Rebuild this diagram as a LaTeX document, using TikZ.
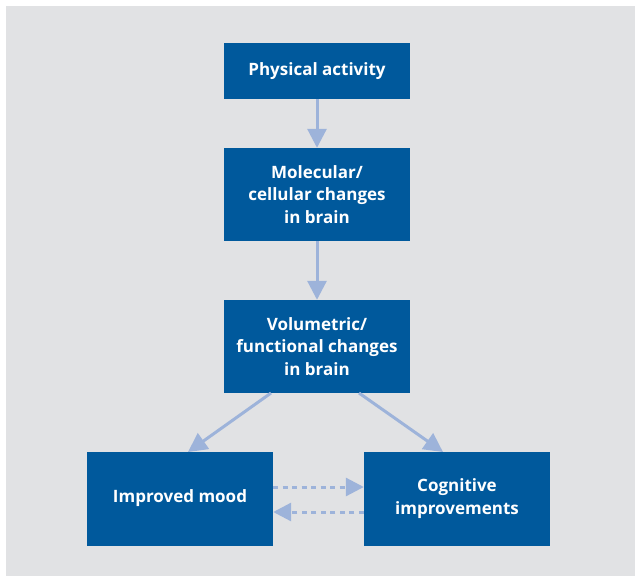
\documentclass[tikz,border=0pt]{standalone}
\usepackage{fontspec}
\setmainfont{Open Sans}
\usetikzlibrary{arrows.meta}
\definecolor{boxblue}{HTML}{00599C}
\definecolor{arrowblue}{HTML}{9DB3DA}
\definecolor{bggrey}{HTML}{E1E2E4}
\tikzset{
  stepbox/.style={draw=none, fill=boxblue, text=white, font=\fontsize{17}{22.5}\selectfont\bfseries,
    align=center, minimum width=186pt, inner sep=0pt},
  flowarrow/.style={draw=arrowblue, line width=3pt, -{Triangle[width=19pt,length=19pt]}},
  dasharrow/.style={draw=arrowblue, line width=3pt, dash pattern=on 5pt off 4.5pt, -{Triangle[width=18pt,length=18pt]}}
}
\begin{document}
\begin{tikzpicture}[x=1pt,y=-1pt]
\useasboundingbox (0,0) rectangle (635,576);
\fill[bggrey] (6,6) rectangle (635,576);
\node[stepbox, minimum height=56pt] (b1) at (317,71) {Physical activity};
\node[stepbox, minimum height=93pt] (b2) at (317,194.5) {Molecular/\\cellular changes\\in brain};
\node[stepbox, minimum height=93pt] (b3) at (317,346.5) {Volumetric/\\functional changes\\in brain};
\node[stepbox, minimum height=94pt] (b4) at (180,498.5) {Improved mood};
\node[stepbox, minimum height=94pt] (b5) at (457,498.5) {Cognitive\\improvements};
\coordinate (d1s) at (271,393);
\coordinate (d1e) at (188,452);
\coordinate (d2s) at (359,393);
\coordinate (d2e) at (443,452);
\draw[flowarrow] (b1.south) -- (b2.north);
\draw[flowarrow] (b2.south) -- (b3.north);
\draw[flowarrow] (d1s) -- (d1e);
\draw[flowarrow] (d2s) -- (d2e);
\draw[dasharrow] ([yshift=11.5pt]b4.east) -- ([yshift=11.5pt]b5.west);
\draw[dasharrow] ([yshift=-13.5pt]b5.west) -- ([yshift=-13.5pt]b4.east);
\end{tikzpicture}
\end{document}
